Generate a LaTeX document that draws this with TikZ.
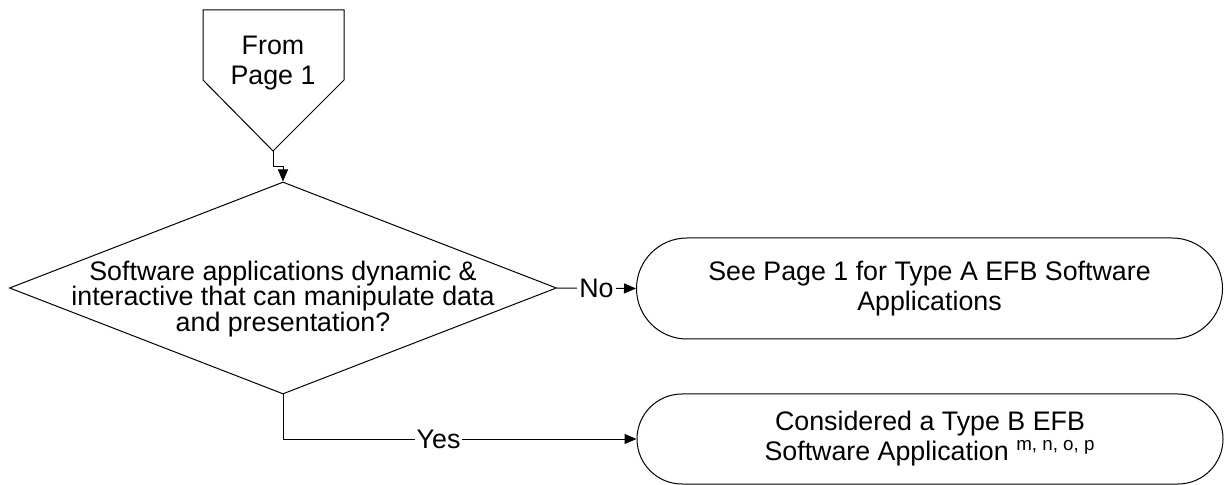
\documentclass[tikz,border=0pt]{standalone}
\usepackage{fontspec}
\setmainfont{Liberation Sans}
\usetikzlibrary{shapes.geometric}
\usetikzlibrary{shapes.misc}
\usetikzlibrary{arrows.meta}

\begin{document}
\begin{tikzpicture}
[x=0.5pt,y=-0.5pt,line width=0.5pt,%
  every node/.style={font=\fontsize{13.4}{15}\selectfont,align=center},%
  decision/.style={shape=diamond,draw,inner sep=0pt,
    minimum width=273.5pt,minimum height=106pt},%
  terminal/.style={shape=rounded rectangle,draw,inner sep=0pt,
    minimum width=293pt},%
  flow/.style={-{Triangle[length=6pt,width=5pt]}},%
  lbl/.style={fill=white,inner sep=1pt}]
\useasboundingbox (0,0) rectangle (1224,485);
%% off-page connector
\draw (203,10) -- (344,10) -- (344,80) -- (273,151) -- (203,80) -- cycle;
\node (from) at (273,63) {From\\Page 1};
\coordinate (fromtip) at (273,151);
%%
\node[decision] (dec) at (283,288) {};
\node[font={\fontsize{13.4}{12.6}\selectfont\lineskiplimit=-6pt}] (dectext) at (283,299)
  {Software applications dynamic \&\\interactive that can manipulate data\\and presentation?};
%%
\node[terminal,minimum height=50.5pt] (typea) at (929.5,288.5)
  {See Page 1 for Type A EFB Software\\Applications};
\node[terminal,minimum height=45pt] (typeb) at (930,439)
  {Considered a Type B EFB\\Software Application \textsuperscript{m, n, o, p}};
%%
\draw[flow] (fromtip) -- ++(0,16) -| (dec.north);
\draw[flow] (dec.east) -- node[lbl] {No} (typea.west);
\draw[flow] (dec.south) |- node[lbl,pos=0.72] {Yes} (typeb.west);
\end{tikzpicture}
\end{document}
